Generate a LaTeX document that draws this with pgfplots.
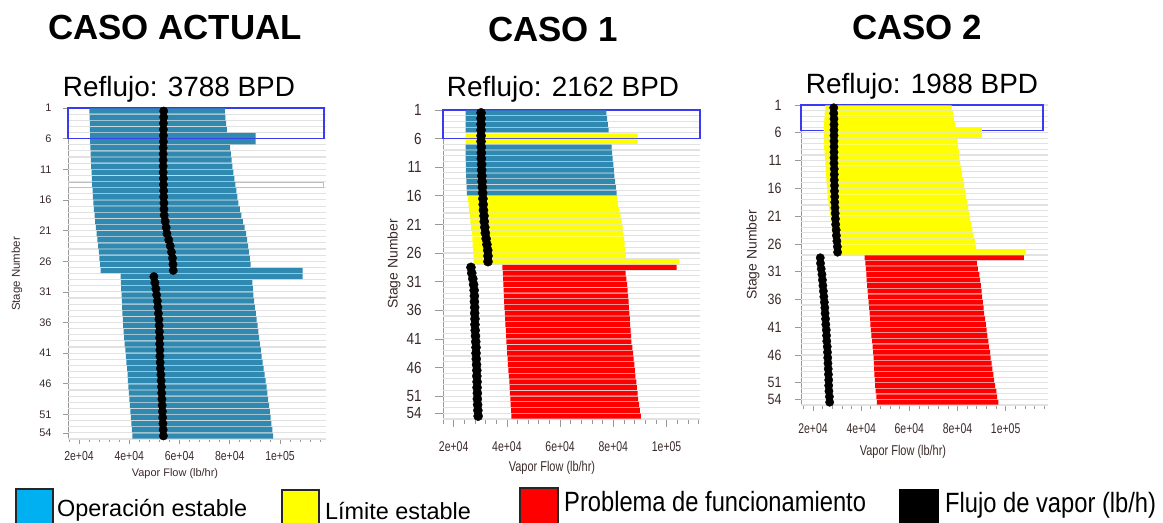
\documentclass[border=0pt]{standalone}
\usepackage{pgfplots}
\pgfplotsset{compat=1.18}
\usepackage{pgfplotstable}
\usepackage{graphicx}
\usepackage{fontspec}
\setmainfont{Liberation Sans}

\definecolor{barblue}{HTML}{2F89B0}
\definecolor{baryel}{HTML}{FFFF00}
\definecolor{barred}{HTML}{FF0000}
\definecolor{legblue}{HTML}{00B0F0}
\definecolor{boxblue}{HTML}{3A3AF0}
\definecolor{labcol}{HTML}{3A2A2A}
\definecolor{gridcol}{HTML}{E2E2E2}
\definecolor{axcol}{HTML}{9A9A9A}

\newcommand\fs[1]{\fontsize{#1}{#1}\selectfont}
\newcommand\vs[2]{\scalebox{1}[#1]{#2}}

% s = stage, L = left edge, R = right edge, c = 1 stable / 2 limit / 3 problem, V = vapor flow
\pgfplotstableread{
s L R c V
1 24100 78100 1 53700
2 24200 78300 1 53700
3 24300 78500 1 53600
4 24300 78800 1 53600
5 24400 90300 1 53600
6 24400 90300 1 53600
7 24500 80100 1 53500
8 24600 80400 1 53500
9 24700 80700 1 53500
10 24800 81000 1 53500
11 25000 81400 1 53500
12 25100 81800 1 53600
13 25200 82200 1 53600
14 25400 82600 1 53700
15 25500 83000 1 53700
16 25700 83400 1 53800
17 25900 84000 1 53800
18 26200 84600 1 53900
19 26400 85200 1 54300
20 26700 85900 1 54700
21 27000 86500 1 55000
22 27300 86900 1 55700
23 27600 87300 1 56300
24 27900 87600 1 56800
25 28100 88000 1 57200
26 28400 88300 1 57400
27 28600 109000 1 57500
28 36600 109000 1 49800
29 36700 89000 1 50200
30 36800 89200 1 50600
31 37000 89400 1 50900
32 37100 89700 1 51200
33 37200 90000 1 51400
34 37300 90400 1 51600
35 37500 90700 1 51800
36 37600 91100 1 51900
37 37800 91400 1 52000
38 38000 91700 1 52100
39 38200 92000 1 52100
40 38500 92400 1 52200
41 38700 92700 1 52200
42 38900 93100 1 52300
43 39100 93500 1 52400
44 39300 93900 1 52600
45 39400 94300 1 52700
46 39600 94700 1 52800
47 39800 95000 1 52900
48 40000 95300 1 53000
49 40200 95700 1 53100
50 40400 96000 1 53200
51 40600 96300 1 53300
52 40800 96600 1 53400
53 41000 97000 1 53500
54 41200 97300 1 53600
}\tabA

\pgfplotstableread{
s L R c V
1 24500 77400 1 30300
2 24500 77700 1 30300
3 24500 77900 1 30300
4 24500 78200 1 30300
5 24500 89100 2 30300
6 24500 89100 2 30300
7 24500 79300 1 30400
8 24500 79500 1 30400
9 24500 79700 1 30400
10 24600 80000 1 30500
11 24600 80200 1 30500
12 24700 80400 1 30600
13 24800 80700 1 30700
14 24900 80900 1 30800
15 25000 81200 1 30900
16 25400 81400 2 31000
17 25600 81800 2 31100
18 25800 82200 2 31200
19 26100 82700 2 31400
20 26300 83100 2 31500
21 26600 83500 2 31700
22 26800 83800 2 31900
23 27000 84000 2 32200
24 27100 84200 2 32500
25 27300 84400 2 32800
26 27400 84700 2 32900
27 27500 104800 2 32900
28 38300 103800 3 26500
29 38500 84600 3 26800
30 38600 84900 3 27200
31 38700 85200 3 27500
32 38800 85400 3 27700
33 38900 85500 3 27800
34 39000 85700 3 27800
35 39100 85800 3 27900
36 39200 86000 3 27900
37 39300 86200 3 28000
38 39400 86300 3 28000
39 39600 86500 3 28100
40 39700 86700 3 28200
41 39800 86800 3 28300
42 40000 87100 3 28400
43 40100 87400 3 28400
44 40300 87600 3 28500
45 40400 87900 3 28600
46 40600 88100 3 28700
47 40700 88300 3 28700
48 40900 88600 3 28800
49 41000 88800 3 28800
50 41100 89100 3 28900
51 41300 89300 3 28900
52 41400 89700 3 29000
53 41600 90000 3 29100
54 41700 90300 3 29200
}\tabB

\pgfplotstableread{
s L R c V
1 25100 77600 2 28600
2 24900 78100 2 28600
3 24700 78500 2 28700
4 24500 79000 2 28700
5 24400 90100 2 28700
6 24400 90100 2 28700
7 24500 80000 2 28700
8 24600 80300 2 28700
9 24800 80600 2 28700
10 24900 80800 2 28700
11 25100 81100 2 28700
12 25200 81500 2 28800
13 25400 81900 2 28800
14 25500 82400 2 28800
15 25700 82800 2 28900
16 25900 83200 2 28900
17 26100 83600 2 29000
18 26400 84000 2 29000
19 26700 84400 2 29100
20 27000 84800 2 29200
21 27300 85200 2 29300
22 27600 85700 2 29400
23 27900 86200 2 29600
24 28300 86700 2 29700
25 28700 87200 2 29900
26 29200 87700 2 30100
27 29700 108300 2 30200
28 41400 107600 3 23000
29 41700 88000 3 23100
30 41900 88500 3 23400
31 42100 89100 3 23700
32 42300 89400 3 23900
33 42500 89700 3 24100
34 42700 90000 3 24300
35 42900 90200 3 24500
36 43100 90500 3 24700
37 43300 90800 3 24900
38 43500 91100 3 25000
39 43700 91500 3 25200
40 43800 91800 3 25300
41 44000 92100 3 25500
42 44200 92400 3 25600
43 44500 92800 3 25700
44 44700 93100 3 25900
45 45000 93500 3 26000
46 45200 93800 3 26100
47 45300 94200 3 26200
48 45400 94500 3 26300
49 45500 94900 3 26400
50 45700 95200 3 26500
51 45800 95600 3 26500
52 46000 96100 3 26600
53 46300 96500 3 26800
54 46500 97000 3 26900
}\tabC

\pgfplotsset{
  stagebase/.style={
    scale only axis, anchor=north west,
    y dir=reverse, ymin=1, ymax=55,
    axis lines*=left,
    axis line style={axcol, line width=0.8bp},
    tick align=outside,
    every tick/.style={axcol, line width=0.7bp},
    scaled x ticks=false, scaled y ticks=false,
    xtick={20000,40000,60000,80000,100000},
    minor xtick={16000,20000,24000,28000,32000,36000,40000,44000,48000,52000,56000,60000,64000,68000,72000,76000,80000,84000,88000,92000,96000,100000,104000,108000,112000,116000},
    ytick={1,6,11,16,21,26,31,36,41,46,51,54},
    extra y ticks={1,2,...,55},
    extra y tick labels={},
    extra y tick style={ymajorgrids=true, major tick length=0pt,
      major grid style={gridcol, line width=1.1bp}},
    xbar stacked, bar width=0.86,
    clip=false,
    xticklabel style={font=\fs{10.5}, text=labcol},
    yticklabel style={text=labcol},
  },
  inv/.style={draw=none, fill=none},
}

\newcommand\stagebars[1]{%
  \addplot[inv] table[x=L, y expr=\thisrow{s}+0.5]{#1};
  \addplot[draw=none, fill=barblue] table[x expr={ifthenelse(\thisrow{c}==1,\thisrow{R}-\thisrow{L},0)}, y expr=\thisrow{s}+0.5]{#1};
  \addplot[draw=none, fill=baryel] table[x expr={ifthenelse(\thisrow{c}==2,\thisrow{R}-\thisrow{L},0)}, y expr=\thisrow{s}+0.5]{#1};
  \addplot[draw=none, fill=barred] table[x expr={ifthenelse(\thisrow{c}==3,\thisrow{R}-\thisrow{L},0)}, y expr=\thisrow{s}+0.5]{#1};
}

\begin{document}
\begin{tikzpicture}[x=1bp, y=1bp]
\path[use as bounding box] (0,0) rectangle (1163,523);

% ---------- titles ----------
\node[anchor=base, font=\fs{35}\bfseries] at (175,483.7) {CASO ACTUAL};
\node[anchor=base, font=\fs{35}\bfseries] at (553,481.3) {CASO 1};
\node[anchor=base, font=\fs{35}\bfseries] at (917,483) {CASO 2};
\node[anchor=base, font=\fs{28}] at (179,426) {Reflujo: 3788 BPD};
\node[anchor=base, font=\fs{28}] at (563,426) {Reflujo: 2162 BPD};
\node[anchor=base, font=\fs{28}] at (922,429) {Reflujo: 1988 BPD};

% ---------- panel 1 ----------
\begin{axis}[stagebase, at={(68bp,415bp)}, width=258bp, height=331bp,
  xmin=15620, xmax=118300,
  major tick length=5bp, minor tick length=3bp,
  xticklabels={\vs{1.25}{2e+04},\vs{1.25}{4e+04},\vs{1.25}{6e+04},\vs{1.25}{8e+04},\vs{1.25}{1e+05}},
  xticklabel style={anchor=center, yshift=-12bp},
  yticklabels={1,6,11,16,21,26,31,36,41,46,51,54},
  yticklabel style={font=\fs{11}, anchor=east, xshift=-8bp}]
  \stagebars{\tabA}
  \addplot[stack plots=false, only marks, mark=*, mark size=4.2pt, mark options={draw=black, fill=black}] table[x=V, y expr=\thisrow{s}+0.5]{\tabA};
  \draw[gray!50, line width=1bp] (axis cs:15620,13.15) rectangle (axis cs:117500,13.97);
  \draw[boxblue, line width=1.3bp] (axis cs:15620,1) rectangle (axis cs:117500,6);
\end{axis}
\node[rotate=90, font=\fs{11.5}, text=labcol] at (17,249) {Stage Number};
\node[font=\fs{11}, text=labcol] at (175,49) {Vapor Flow (lb/hr)};

% ---------- panel 2 ----------
\begin{axis}[stagebase, at={(443bp,413bp)}, width=257bp, height=309bp,
  xmin=16000, xmax=112550,
  major tick length=8bp, minor tick length=5bp,
  xticklabels={\vs{1.35}{2e+04},\vs{1.35}{4e+04},\vs{1.35}{6e+04},\vs{1.35}{8e+04},\vs{1.35}{1e+05}},
  xticklabel style={anchor=center, yshift=-20bp},
  yticklabels={\vs{1.2}{1},\vs{1.2}{6},\vs{1.2}{11},\vs{1.2}{16},\vs{1.2}{21},\vs{1.2}{26},\vs{1.2}{31},\vs{1.2}{36},\vs{1.2}{41},\vs{1.2}{46},\vs{1.2}{51},\vs{1.2}{54}},
  yticklabel style={font=\fs{13.5}, anchor=east, xshift=-10bp}]
  \stagebars{\tabB}
  \addplot[stack plots=false, only marks, mark=*, mark size=4.6pt, mark options={draw=black, fill=black}] table[x=V, y expr=\thisrow{s}+0.5]{\tabB};
  \draw[boxblue, line width=1.3bp] (axis cs:16000,1) rectangle (axis cs:112550,5.95);
\end{axis}
\node[rotate=90, font=\fs{14}, text=labcol] at (394,259) {Stage Number};
\node[font=\fs{11}, text=labcol] at (552,55) {\vs{1.3}{Vapor Flow (lb/hr)}};

% ---------- panel 3 ----------
\begin{axis}[stagebase, at={(801bp,418bp)}, width=247bp, height=300bp,
  xmin=15000, xmax=117600,
  major tick length=6bp, minor tick length=4bp,
  xticklabels={\vs{1.35}{2e+04},\vs{1.35}{4e+04},\vs{1.35}{6e+04},\vs{1.35}{8e+04},\vs{1.35}{1e+05}},
  xticklabel style={anchor=center, yshift=-18bp},
  yticklabels={\vs{1.2}{1},\vs{1.2}{6},\vs{1.2}{11},\vs{1.2}{16},\vs{1.2}{21},\vs{1.2}{26},\vs{1.2}{31},\vs{1.2}{36},\vs{1.2}{41},\vs{1.2}{46},\vs{1.2}{51},\vs{1.2}{54}},
  yticklabel style={font=\fs{12.5}, anchor=east, xshift=-10bp}]
  \stagebars{\tabC}
  \addplot[stack plots=false, only marks, mark=*, mark size=4.2pt, mark options={draw=black, fill=black}] table[x=V, y expr=\thisrow{s}+0.5]{\tabC};
  \draw[boxblue, line width=1.3bp] (axis cs:15000,1) rectangle (axis cs:115500,5.55);
\end{axis}
\node[rotate=90, font=\fs{14}, text=labcol] at (753,268) {Stage Number};
\node[font=\fs{11}, text=labcol] at (903,71) {\vs{1.3}{Vapor Flow (lb/hr)}};

% ---------- legend ----------
\draw[fill=legblue, draw=black!85, line width=1.5bp] (16,34) rectangle (53,-10);
\node[anchor=base west, font=\fs{23.5}, inner sep=0pt] at (57,6) {Operación estable};
\draw[fill=baryel, draw=black!85, line width=1.5bp] (282,33) rectangle (319,-10);
\node[anchor=base west, font=\fs{23.5}, inner sep=0pt] at (325,3) {Límite estable};
\draw[fill=barred, draw=black!85, line width=1.5bp] (520,35) rectangle (558,-10);
\node[anchor=base west, font=\fs{28}, inner sep=0pt] at (564,11) {\scalebox{0.85}[1]{Problema de funcionamiento}};
\draw[fill=black, draw=black, line width=1.5bp] (900,33) rectangle (938,-10);
\node[anchor=base west, font=\fs{28}, inner sep=0pt] at (945,10) {\scalebox{0.85}[1]{Flujo de vapor (lb/h)}};
\end{tikzpicture}
\end{document}
